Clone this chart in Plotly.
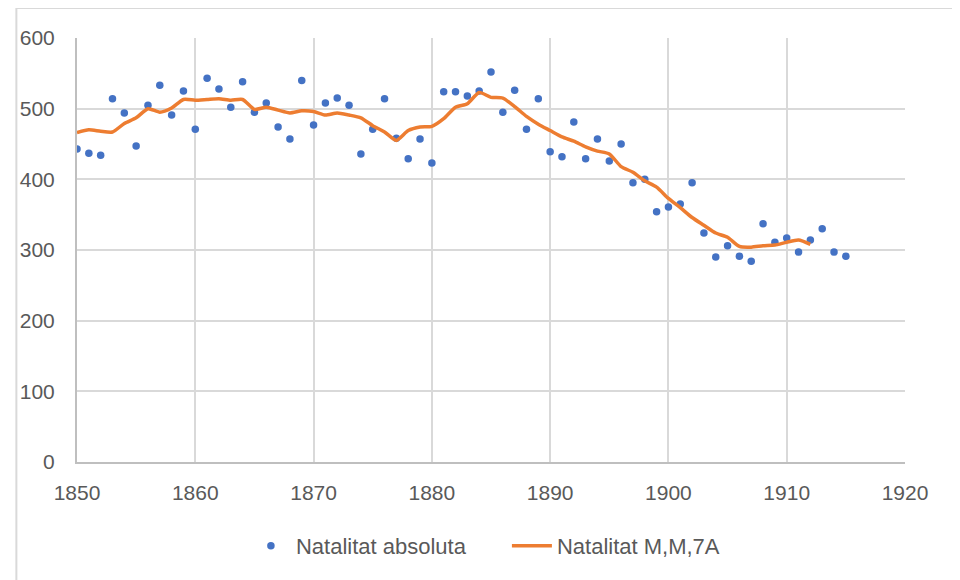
import plotly.graph_objects as go

years = list(range(1850, 1916))
natalitat = [443, 437, 434, 514, 494, 447, 505, 533, 491, 525,
             471, 543, 528, 502, 538, 495, 508, 474, 457, 540,
             477, 508, 515, 505, 436, 471, 514, 458, 429, 457,
             423, 524, 524, 518, 525, 552, 495, 526, 471, 514,
             439, 432, 481, 429, 457, 426, 450, 395, 400, 354,
             361, 365, 395, 324, 290, 306, 291, 284, 337, 311,
             317, 297, 314, 330, 297, 291]

ma_years = list(range(1850, 1913))
ma_values = [466, 470, 468, 467, 479, 487, 500, 495, 501, 513,
             512, 513, 514, 512, 513, 499, 502, 498, 494, 497,
             496, 491, 494, 491, 487, 476, 467, 455, 469, 474,
             475, 486, 502, 507, 523, 516, 515, 503, 489, 478,
             469, 460, 454, 446, 440, 436, 418, 410, 398, 389,
             373, 360, 346, 335, 324, 318, 305, 304, 306, 307,
             311, 314, 308]

x_ticks = [1850, 1860, 1870, 1880, 1890, 1900, 1910, 1920]
y_ticks = [0, 100, 200, 300, 400, 500, 600]

font_family = "Liberation Sans"
text_color = "#595959"

fig = go.Figure()
fig.add_trace(go.Scatter(
    x=years, y=natalitat, mode="markers", name="Natalitat absoluta",
    marker=dict(color="#4472C4", size=7.5),
))
fig.add_trace(go.Scatter(
    x=ma_years, y=ma_values, mode="lines", name="Natalitat M,M,7A",
    line=dict(color="#ED7D31", width=3.5, shape="spline", smoothing=0.6),
))

# page body adds an 8px offset; margins compensate so plot area is at x 72-905, y 38-462
fig.update_layout(
    width=960, height=580,
    margin=dict(l=64, r=63, t=30, b=126),
    paper_bgcolor="white", plot_bgcolor="white",
    font=dict(family=font_family, size=21, color=text_color),
    showlegend=True,
    legend=dict(orientation="h", x=0.204, xanchor="left", y=-0.198, yanchor="middle",
                font=dict(size=22, color=text_color), itemwidth=40, tracegroupgap=0,
                entrywidth=206, entrywidthmode="pixels"),
    shapes=[dict(type="rect", xref="paper", yref="paper",
                 x0=(11 - 72) / 833, x1=(990 - 72) / 833,
                 y0=(462 - 600) / 424, y1=(462 - 8) / 424,
                 line=dict(color="#d9d9d9", width=2), fillcolor="rgba(0,0,0,0)", layer="below")],
)
fig.update_xaxes(
    range=[1850, 1920], tickvals=x_ticks, ticktext=[str(v) for v in x_ticks],
    showgrid=True, gridcolor="#d9d9d9", gridwidth=2,
    showline=True, linecolor="#bfbfbf", linewidth=2,
    ticks="outside", ticklen=11, tickcolor="rgba(0,0,0,0)",
    zeroline=False,
)
fig.update_yaxes(
    range=[0, 600], tickvals=y_ticks, ticktext=[str(v) for v in y_ticks],
    showgrid=True, gridcolor="#d9d9d9", gridwidth=2,
    showline=True, linecolor="#bfbfbf", linewidth=2,
    ticks="outside", ticklen=16, tickcolor="rgba(0,0,0,0)",
    zeroline=False,
)

fig.write_html("out.html")
